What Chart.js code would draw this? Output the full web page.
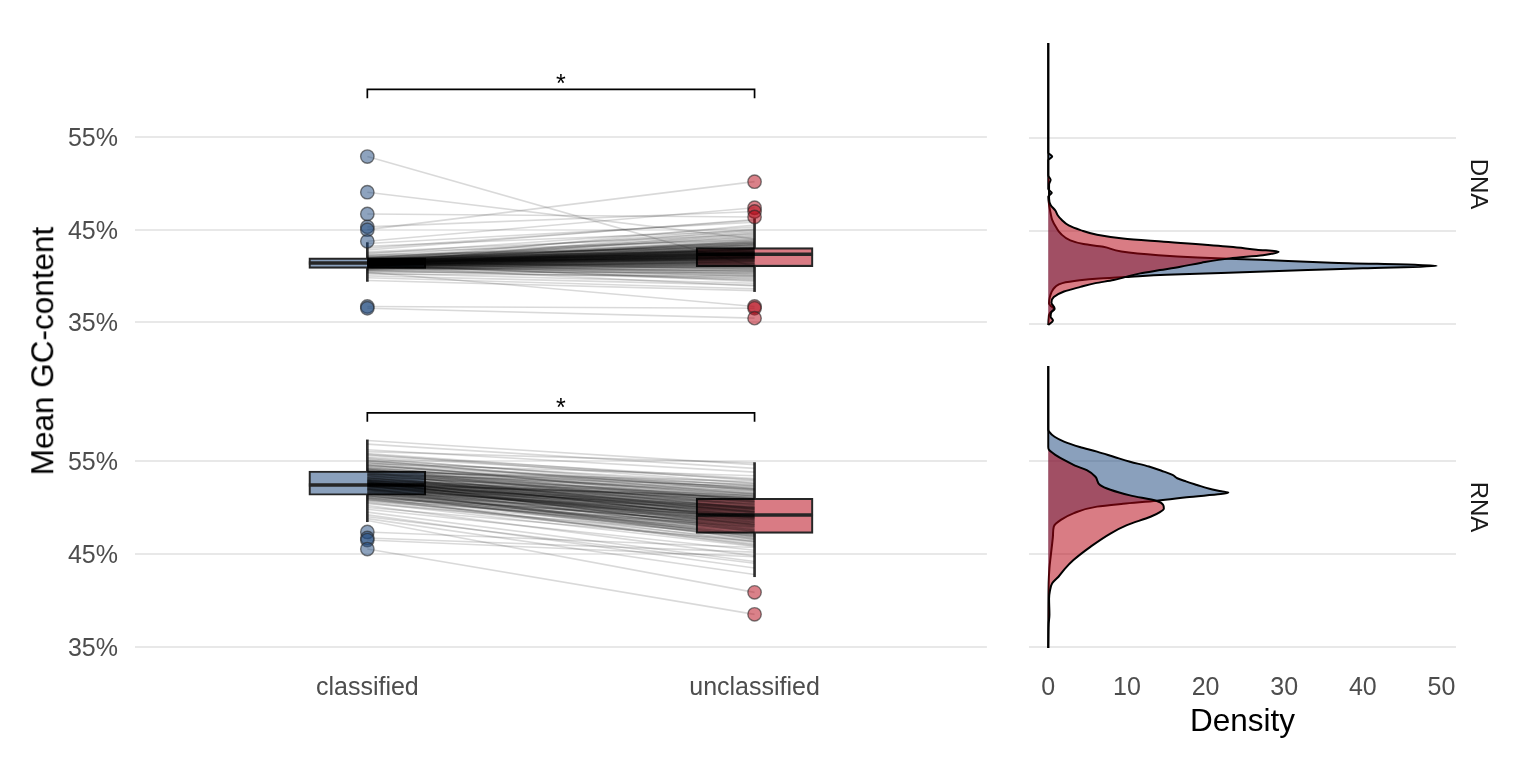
<!DOCTYPE html>
<html>
<head>
<meta charset="utf-8">
<script src="https://cdn.jsdelivr.net/npm/chart.js@4.4.1/dist/chart.umd.min.js"></script>
<style>
html,body{margin:0;padding:0;background:#fff;}
#wrap{position:relative;width:1536px;height:768px;overflow:hidden;font-family:'Liberation Sans',Arial,sans-serif;background:#fff;}
canvas{position:absolute;}
.lbl{position:absolute;white-space:nowrap;line-height:1;}
</style>
</head>
<body>
<div id="wrap">
  <canvas id="cA" width="995" height="345" style="left:0;top:0"></canvas>
  <canvas id="cB" width="536" height="345" style="left:1000px;top:0"></canvas>
  <canvas id="cC" width="995" height="428" style="left:0;top:340px"></canvas>
  <canvas id="cD" width="536" height="428" style="left:1000px;top:340px"></canvas>
  <div class="lbl" id="ytitle" style="left:43px;top:351px;font-size:31.5px;color:#000;transform:translate(-50%,-50%) rotate(-90deg);">Mean GC-content</div>
  <div class="lbl" id="sDNA" style="left:1479px;top:184px;font-size:24px;color:#1a1a1a;transform:translate(-50%,-50%) rotate(90deg);">DNA</div>
  <div class="lbl" id="sRNA" style="left:1479px;top:507px;font-size:24px;color:#1a1a1a;transform:translate(-50%,-50%) rotate(90deg);">RNA</div>
</div>
<script>
// ---------------- DATA ----------------
const groups = ['classified', 'unclassified'];
const yTicks = [35, 45, 55];
const densityTicks = [0, 10, 20, 30, 40, 50];
const sigLabel = '*';
const bracketY = 60.16;
const bracketDrop = 0.96;
const starY = 60.6;

// boxplot summaries (GC %), index 0 = classified, 1 = unclassified
const dnaLow  = [39.4, 38.3];
const dnaQ1   = [40.81, 40.99];
const dnaMed  = [41.40, 42.34];
const dnaQ3   = [41.94, 43.06];
const dnaHigh = [43.6, 46.2];

const rnaLow  = [48.47, 42.56];
const rnaQ1   = [51.31, 47.22];
const rnaMed  = [52.42, 49.19];
const rnaQ3   = [53.92, 50.99];
const rnaHigh = [57.26, 54.82];

// outliers
const dnaOutClassified   = [52.9, 49.05, 46.69, 45.3, 45.0, 43.74, 36.69, 36.5];
const dnaOutUnclassified = [50.19, 47.37, 46.97, 46.37, 36.69, 36.5, 35.43];
const rnaOutClassified   = [47.37, 46.72, 46.5, 45.53];
const rnaOutUnclassified = [40.88, 38.52];

// paired samples (same index = same sample)
const dnaClassified = [41.4,41.2,41.6,40.9,41.8,41.3,40.7,42.0,41.5,41.1,41.7,40.5,42.2,41.4,41.0,41.9,41.3,40.8,42.4,41.6,41.2,40.3,41.8,41.5,41.0,42.1,41.4,40.6,41.7,43.0,41.3,39.8,41.6,41.1,42.6,41.5,40.9,41.9,41.2,40.2,41.7,41.4,43.5,40.8,41.3,39.5,42.3,41.6,41.0,41.8,41.4,40.6,42.0,41.2,43.2,41.5,40.9,41.7,41.3,42.5,40.4,41.6,41.1,41.9,40.0,41.4,42.8,41.2,41.5,40.7,52.9,49.05,46.69,45.3,45.0,43.74,36.69,36.5,40.4,
  41.3,41.5,41.2,41.6,41.4,41.0,41.7,41.3,41.5,41.1,41.8,41.4,41.6,41.2,40.9,41.5,41.3,41.7,41.0,41.4,42.0,41.2,41.6,41.5,40.8,41.3,41.9,41.1,41.4,41.6,41.2,41.5,41.3,40.7,41.8,41.4,41.0,41.6,41.3,42.1,41.5,41.2,40.9,41.7,41.4,41.1,41.6,41.3,41.5,40.6,41.8,41.2,41.4,41.0,41.6,41.3,41.9,41.1,41.5,41.4,42.2,41.2,41.6,40.8,41.3,41.7,41.5,41.0,41.4,41.2,
  41.4,41.3,41.6,41.1,41.5,41.2,41.7,41.0,41.4,41.6,41.3,41.5,41.8,41.2,40.9,41.4,41.6,41.1,41.3,41.7,41.5,41.0,41.4,41.2,41.6,41.3,41.9,41.5,41.1,41.4,41.7,41.2,41.5,40.8,41.3,41.6,41.4,41.0,41.8,41.3,41.5,41.2,41.6,41.4,41.1,41.7,41.3,41.5,41.2,41.4];
const dnaUnclassified = [42.3,41.8,43.0,41.2,43.5,42.6,40.6,44.1,42.0,41.5,42.8,39.8,44.8,42.2,40.9,43.3,42.4,41.0,45.3,42.5,41.9,39.2,42.9,43.8,41.4,43.6,42.1,40.2,42.7,46.0,41.7,38.6,42.3,42.0,44.5,41.6,40.5,42.4,42.8,40.0,43.2,42.5,45.8,41.6,43.0,38.4,43.1,41.9,42.2,44.2,41.3,39.6,42.6,42.1,44.9,42.8,41.8,41.4,40.8,43.9,40.4,42.2,43.4,45.1,39.0,42.9,46.1,41.1,42.4,41.3,41.0,44.0,46.37,46.97,50.19,47.37,36.5,35.43,36.69,
  42.0,42.7,41.6,43.1,42.4,41.9,42.6,41.2,43.6,42.3,42.1,40.7,44.0,42.9,40.3,42.2,43.2,41.7,42.5,41.9,43.3,40.1,42.8,41.1,42.0,44.6,42.3,41.0,43.7,42.0,39.4,42.6,42.2,41.6,43.4,42.0,40.0,41.5,42.9,42.7,41.8,43.5,42.1,42.4,41.4,42.6,45.5,40.5,42.9,41.1,42.2,41.7,43.0,38.9,42.5,42.8,44.4,41.9,42.3,40.9,43.0,42.4,41.3,40.8,42.1,43.7,42.0,41.7,42.6,39.9,
  42.5,41.9,42.9,41.4,43.3,42.2,42.0,40.6,43.9,41.8,42.7,40.9,43.0,41.5,42.4,42.1,44.3,41.2,42.6,43.5,42.3,39.7,41.7,43.1,42.4,40.4,42.8,41.9,42.5,45.0,42.2,41.3,43.6,41.5,42.0,40.7,42.7,42.9,41.6,43.4,42.1,39.5,42.6,41.1,43.8,42.5,41.8,44.7,42.3,40.2];
const rnaClassified = [52.4,53.1,51.8,54.2,52.9,51.2,55.0,52.1,53.6,50.6,52.6,56.2,51.5,53.9,52.2,49.8,54.6,52.8,51.0,57.2,53.3,52.0,50.2,54.0,52.5,51.6,55.6,53.0,49.2,52.3,54.4,51.3,53.7,52.7,56.8,50.9,53.4,51.9,55.3,52.4,48.8,53.2,51.4,54.8,52.0,50.4,53.8,52.6,56.0,51.1,53.5,52.2,49.5,54.1,51.7,52.9,55.8,50.8,53.0,52.3,54.7,51.6,50.0,53.3,52.7,55.1,51.0,53.9,49.0,52.5,47.37,46.72,46.5,45.53,48.6,
  52.6,53.0,52.1,53.5,51.9,52.8,54.3,51.5,52.4,53.2,52.0,53.8,51.2,52.7,54.0,52.3,51.8,53.4,52.5,55.0,52.2,51.4,53.6,52.9,50.8,53.1,52.6,54.5,51.7,52.4,53.7,51.0,52.8,53.3,52.0,54.9,51.6,52.7,53.9,52.3,50.5,53.0,52.5,51.3,54.2,52.9,51.9,53.5,52.1,55.4,52.6,51.1,53.2,52.4,54.6,51.8,52.8,53.6,52.2,50.7,53.1,52.0,54.1,51.5,52.7,53.4,52.3,55.7,51.6,52.9,
  52.5,53.2,51.9,52.8,53.6,52.2,51.5,54.1,52.7,53.0,52.3,51.8,53.9,52.6,54.5,52.0,51.3,53.4,52.9,52.4,53.7,51.6,52.1,55.2,52.7,53.3,51.9,52.5,54.2,52.3,50.9,53.1,52.6,53.8,51.7,52.8,54.4,52.2,53.5,51.4,52.9,53.6,52.0,54.8,52.4,51.2,53.2,52.6,53.9,51.8];
const rnaUnclassified = [49.2,50.3,48.0,51.5,49.8,47.1,52.6,48.9,50.9,46.3,49.5,53.8,47.8,50.1,49.6,45.4,51.0,48.6,47.5,54.6,51.2,47.6,44.8,52.2,50.0,48.4,53.1,49.0,43.5,48.2,50.6,46.8,51.8,49.4,54.2,46.0,49.7,48.8,52.0,47.4,42.8,50.6,49.0,51.9,49.3,47.0,49.9,48.5,54.8,45.9,50.8,50.4,44.2,50.2,47.3,51.0,52.9,47.9,48.1,49.1,53.4,46.6,46.4,49.5,50.7,51.4,48.7,52.5,44.0,47.8,45.7,45.2,44.7,38.52,40.88,
  49.8,50.2,48.6,50.0,49.2,48.9,51.3,48.1,50.5,49.3,47.9,51.0,48.3,49.6,50.8,48.8,47.0,50.9,49.0,51.8,49.9,46.9,49.5,50.3,46.5,49.9,48.3,52.4,48.6,49.4,50.4,46.1,50.8,48.7,49.7,52.0,47.5,48.0,51.5,49.5,45.8,49.6,51.1,47.7,50.5,49.2,48.4,51.7,46.8,53.0,50.1,47.9,50.0,48.1,51.2,49.5,47.6,52.0,48.5,47.2,50.7,48.9,49.8,46.3,50.9,49.1,47.4,52.6,48.8,51.4,
  49.6,50.4,48.2,49.3,51.2,48.7,47.2,50.9,49.9,48.4,50.1,48.9,50.3,47.7,51.6,49.1,46.7,50.6,48.9,51.3,49.4,48.0,50.0,52.3,48.2,51.5,47.1,49.7,51.9,48.4,47.4,49.8,50.6,49.0,49.2,47.5,52.1,49.0,48.6,48.2,50.0,52.3,46.6,50.7,49.8,47.6,48.8,51.1,52.8,46.9];

// densities (GC % grid and density value)
const dnaClsDensGC = [65.2,53.4,53.0,52.6,49.5,49.1,48.7,47.6,46.9,46.2,45.4,44.7,44.0,43.6,43.3,42.8,42.4,42.15,41.9,41.6,41.25,41.0,40.8,40.5,40.3,40.1,39.9,39.7,39.4,39.0,38.4,37.9,37.2,36.9,36.6,36.2,35.6,34.9];
const dnaClsDens   = [0,0,0.5,0,0,0.45,0,0.15,0.3,0.5,1.0,1.6,2.8,4.5,7.0,9.3,14,19,27,36,49.4,40,33,22,15,10.5,6.5,4.0,1.8,0.9,0.4,0.2,0.1,0.4,0.8,0.2,0.05,0];
const dnaUnclDensGC = [65.2,51.0,50.5,50.0,48.5,47.8,47.2,46.7,46.2,45.6,45.1,44.6,44.2,43.85,43.3,43.0,42.78,42.55,42.4,42.06,41.6,41.16,40.8,40.45,40.1,39.73,39.4,39.0,38.5,37.9,37.3,36.7,36.3,35.8,35.4,34.9];
const dnaUnclDens   = [0,0,0.3,0.1,0.1,0.3,0.9,1.2,1.7,2.6,4.1,6.2,9.5,14.7,23.1,26.5,29.3,28.4,27.3,23.1,19.5,16.8,14.2,11.7,10.0,8.3,6.0,4.1,2.0,0.7,0.4,0.8,0.4,0.3,0.6,0];
const rnaClsDensGC = [65.2,58.4,58.15,57.6,57.08,56.5,56.0,55.4,54.92,54.4,53.85,53.5,53.14,52.8,52.42,52.0,51.75,51.6,51.1,50.73,50.4,50.09,49.37,48.66,47.94,47.0,46.15,44.7,43.5,41.8,34.9];
const rnaClsDens   = [0,0,0.1,0.8,2.0,4.0,6.2,8.5,10.4,12.8,14.7,15.8,16.4,17.5,18.9,20.5,22.0,22.9,17.6,13.8,9.5,6.2,3.2,1.6,0.7,0.6,0.5,0.3,0.15,0.05,0];
const rnaUnclDensGC = [65.2,56.5,56.18,55.6,55.1,54.5,54.0,53.3,52.4,51.9,51.3,50.7,50.3,49.9,49.5,49.0,48.1,47.2,45.8,44.35,43.4,42.56,41.85,41.0,40.2,38.5,37.5,34.9];
const rnaUnclDens   = [0,0,0.1,1.0,2.0,3.4,4.9,6.0,6.6,7.9,10.4,13.8,14.6,14.7,14.2,13.0,10.0,7.9,5.4,3.2,2.1,1.3,0.5,0.2,0.1,0.15,0.05,0];

// ---------------- STYLE ----------------
const FONT = "'Liberation Sans', Arial, sans-serif";
const TICK_SIZE = 25;
const GRID = '#e8e8e8';
const BLUE_BOX = '#8aa0bc', RED_BOX = '#d97b84';
const BLUE_A = 'rgba(30,72,126,0.52)', RED_A = 'rgba(182,4,20,0.52)';
const Y_MIN = 33.4, Y_MAX = 66.7;
const X_MIN = 0.4, X_MAX = 2.6;
const D_MIN = -2.45, D_MAX = 51.85;
const BOX_HALF = 0.151;

Chart.defaults.font.family = FONT;
Chart.defaults.color = '#4d4d4d';

const sigPlugin = {
  id: 'sig',
  afterDatasetsDraw(chart) {
    const {ctx, scales: {x, y}} = chart;
    ctx.save();
    ctx.font = '25px ' + FONT;
    ctx.fillStyle = '#000';
    ctx.textAlign = 'center';
    ctx.textBaseline = 'middle';
    ctx.fillText(sigLabel, x.getPixelForValue(1.5), y.getPixelForValue(starY));
    ctx.restore();
  }
};

function yScale(showLabels) {
  return {
    type: 'linear', min: Y_MIN, max: Y_MAX, position: 'left', beginAtZero: false,
    afterBuildTicks: s => { s.ticks = yTicks.map(v => ({value: v})); },
    afterFit: s => { s.width = showLabels ? 135 : 0; s.paddingTop = 0; s.paddingBottom = 0; },
    grid: {color: GRID, lineWidth: 2, drawTicks: false},
    border: {display: false},
    ticks: {display: showLabels, padding: 17, labelOffset: 2, color: '#4d4d4d', font: {size: TICK_SIZE}, callback: v => v + '%'}
  };
}

function leftChart(id, st, cls, uncl, outC, outU, showX, pad) {
  const ds = [];
  ds.push({type: 'bar', data: groups.map((g, i) => ({x: i + 1, y: [st.low[i], st.high[i]]})),
    backgroundColor: '#303030', borderWidth: 0, barThickness: 2, maxBarThickness: 2, grouped: false, order: 10});
  ds.push({type: 'bar', data: groups.map((g, i) => ({x: i + 1, y: [st.q1[i], st.q3[i]]})),
    backgroundColor: [BLUE_BOX, RED_BOX], borderColor: '#262626', borderWidth: 2.2, borderSkipped: false,
    barThickness: 117, maxBarThickness: 117, grouped: false, order: 9});
  groups.forEach((g, i) => ds.push({type: 'line',
    data: [{x: i + 1 - BOX_HALF, y: st.med[i]}, {x: i + 1 + BOX_HALF, y: st.med[i]}],
    borderColor: '#262626', borderWidth: 3.5, pointRadius: 0, order: 8}));
  const n = Math.min(cls.length, uncl.length);
  for (let k = 0; k < n; k++) {
    ds.push({type: 'line', data: [{x: 1, y: cls[k]}, {x: 2, y: uncl[k]}],
      borderColor: 'rgba(0,0,0,0.15)', borderWidth: 1.6, pointRadius: 0, order: 5});
  }
  ds.push({type: 'scatter', data: outC.map(v => ({x: 1, y: v})), backgroundColor: 'rgba(30,72,126,0.5)',
    borderColor: 'rgba(40,40,40,0.6)', borderWidth: 1.4, pointRadius: 6.7, order: 3});
  ds.push({type: 'scatter', data: outU.map(v => ({x: 2, y: v})), backgroundColor: 'rgba(182,4,20,0.5)',
    borderColor: 'rgba(40,40,40,0.6)', borderWidth: 1.4, pointRadius: 6.7, order: 3});
  ds.push({type: 'line', data: [{x: 1, y: bracketY - bracketDrop}, {x: 1, y: bracketY}, {x: 2, y: bracketY}, {x: 2, y: bracketY - bracketDrop}],
    borderColor: '#000', borderWidth: 1.7, pointRadius: 0, order: 1});

  new Chart(document.getElementById(id), {
    type: 'scatter',
    data: {datasets: ds},
    plugins: [sigPlugin],
    options: {
      responsive: false, animation: false, events: [],
      layout: {padding: pad},
      plugins: {legend: {display: false}, tooltip: {enabled: false}},
      scales: {
        x: {
          type: 'linear', min: X_MIN, max: X_MAX, offset: false, display: showX, position: 'bottom',
          afterBuildTicks: s => { s.ticks = [1, 2].map(v => ({value: v})); },
          afterFit: s => { s.height = showX ? 106 : 0; s.paddingLeft = 0; s.paddingRight = 0; },
          grid: {display: false, drawTicks: false, offset: false},
          border: {display: false},
          ticks: {padding: 11, color: '#4d4d4d', font: {size: TICK_SIZE}, callback: v => groups[v - 1]}
        },
        y: yScale(true)
      }
    }
  });
}

function densChart(id, bGC, bD, rGC, rD, showX, pad) {
  new Chart(document.getElementById(id), {
    type: 'line',
    data: {datasets: [
      {data: bGC.map((g, i) => ({x: bD[i], y: g})), backgroundColor: BLUE_A, borderColor: '#000',
        borderWidth: 2, fill: 'origin', pointRadius: 0, cubicInterpolationMode: 'monotone', order: 2},
      {data: rGC.map((g, i) => ({x: rD[i], y: g})), backgroundColor: RED_A, borderColor: '#000',
        borderWidth: 2, fill: 'origin', pointRadius: 0, cubicInterpolationMode: 'monotone', order: 1}
    ]},
    options: {
      indexAxis: 'y',
      responsive: false, animation: false, events: [],
      layout: {padding: pad},
      plugins: {legend: {display: false}, tooltip: {enabled: false}},
      scales: {
        x: {
          type: 'linear', min: D_MIN, max: D_MAX, offset: false, display: showX, position: 'bottom',
          afterBuildTicks: s => { s.ticks = densityTicks.map(v => ({value: v})); },
          afterFit: s => { s.height = showX ? 106 : 0; s.paddingLeft = 0; s.paddingRight = 0; },
          grid: {display: false, drawTicks: false},
          border: {display: false},
          ticks: {padding: 11, color: '#4d4d4d', font: {size: TICK_SIZE}},
          title: {display: showX, text: 'Density', color: '#000', font: {size: 31.5}, padding: {top: 0, bottom: 27}}
        },
        y: yScale(false)
      }
    }
  });
}

leftChart('cA', {low: dnaLow, q1: dnaQ1, med: dnaMed, q3: dnaQ3, high: dnaHigh},
  dnaClassified, dnaUnclassified, dnaOutClassified, dnaOutUnclassified, false,
  {left: 0, top: 29, right: 7, bottom: 6});
leftChart('cC', {low: rnaLow, q1: rnaQ1, med: rnaMed, q3: rnaQ3, high: rnaHigh},
  rnaClassified, rnaUnclassified, rnaOutClassified, rnaOutUnclassified, true,
  {left: 0, top: 12, right: 7, bottom: 0});
densChart('cB', dnaClsDensGC, dnaClsDens, dnaUnclDensGC, dnaUnclDens, false,
  {left: 29, top: 29, right: 80, bottom: 6});
densChart('cD', rnaClsDensGC, rnaClsDens, rnaUnclDensGC, rnaUnclDens, true,
  {left: 29, top: 12, right: 80, bottom: 0});
</script>
</body>
</html>
